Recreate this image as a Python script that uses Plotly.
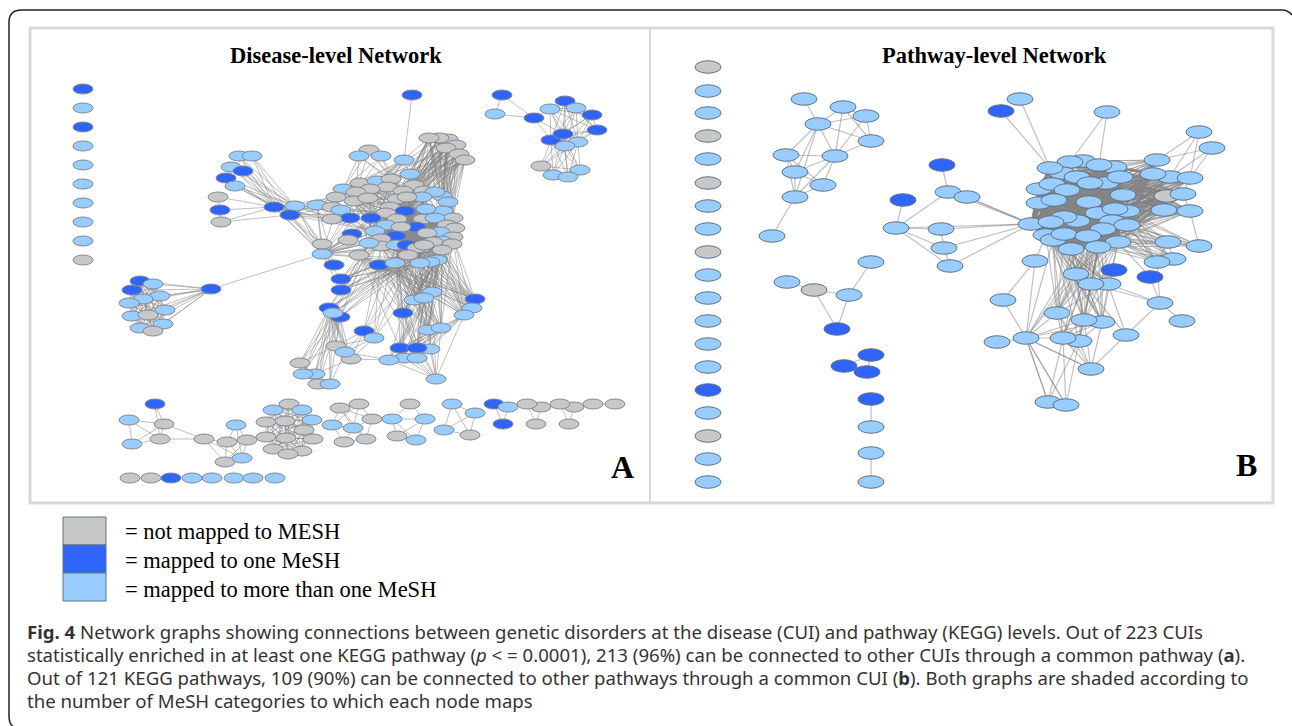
import plotly.graph_objects as go

# node lists: (x, y, kind)  G = not mapped, D = one MeSH, L = more than one
GRAY, DARK, LIGHT = "#c8c8c8", "#2f65fb", "#99ccff"
FILL = {"G": GRAY, "D": DARK, "L": LIGHT}

# ---- Disease-level network ----
A_SINGLES = [(83, 89, "D"), (83, 108, "L"), (83, 127, "D"), (83, 146, "L"), (83, 165, "L"),
             (83, 184, "L"), (83, 203, "L"), (83, 222, "L"), (83, 241, "L"), (83, 260, "G")]
A_ROW = [(130, 478, "G"), (151, 478, "G"), (171, 478, "D"), (192, 478, "L"), (212, 478, "L"),
         (234, 478, "L"), (253, 478, "L"), (275, 478, "L")]
A_NE = [(502, 95, "D"), (495, 114, "L"), (534, 118, "D"), (550, 109, "L"), (565, 101, "D"),
        (576, 108, "L"), (592, 115, "D"), (597, 130, "D"), (551, 140, "D"), (563, 134, "D"),
        (578, 142, "L"), (565, 146, "L"), (541, 166, "G"), (553, 175, "L"), (580, 170, "L"),
        (568, 177, "L")]
A_TOP = [(412, 95, "D")]
A_GRAYS = [(448, 139, "G"), (439, 138, "G"), (429, 138, "G"), (456, 145, "G"), (446, 148, "G"),
           (459, 154, "G"), (465, 160, "G")]
A_TRIO = [(369, 150, "G"), (359, 156, "L"), (381, 156, "L"), (404, 160, "L"), (410, 174, "L")]
A_FAN = [(239, 156, "L"), (252, 156, "L"), (231, 167, "L"), (243, 171, "D"), (226, 178, "D"),
         (235, 186, "L"), (218, 197, "G"), (220, 210, "D"), (221, 222, "G")]
A_BRIDGE = [(274, 207, "D"), (295, 206, "L"), (290, 215, "D"), (317, 205, "L")]
A_CORE = [(343, 189, "L"), (360, 183, "G"), (377, 181, "L"), (391, 179, "G"), (414, 185, "G"),
          (387, 187, "G"), (370, 189, "G"), (356, 192, "G"), (336, 197, "G"), (354, 201, "G"),
          (368, 198, "G"), (403, 191, "G"), (424, 191, "G"), (442, 196, "L"), (435, 192, "L"),
          (422, 197, "L"), (448, 202, "L"), (397, 199, "G"), (407, 197, "G"), (332, 207, "G"),
          (341, 210, "L"), (390, 207, "G"), (405, 211, "D"), (443, 211, "L"), (426, 209, "L"),
          (386, 213, "G"), (350, 218, "D"), (371, 218, "D"), (332, 219, "G"), (397, 219, "G"),
          (423, 219, "G"), (453, 218, "G"), (435, 218, "L"), (447, 225, "G"), (455, 228, "G"),
          (386, 225, "L"), (416, 227, "D"), (401, 227, "G"), (352, 234, "D"), (375, 231, "L"),
          (440, 232, "L"), (427, 233, "G"), (453, 237, "G"), (348, 240, "G"), (396, 236, "D"),
          (381, 239, "G"), (442, 241, "L"), (452, 244, "G"), (433, 242, "G"), (322, 244, "G"),
          (381, 246, "G"), (369, 243, "L"), (396, 245, "L"), (407, 245, "D"), (417, 248, "G"),
          (424, 245, "G"), (442, 250, "G"), (322, 254, "L"), (359, 255, "G"), (408, 255, "G"),
          (437, 260, "L"), (430, 262, "L"), (379, 265, "D"), (420, 263, "L"), (395, 263, "L"),
          (334, 265, "D")]
A_SW = [(211, 289, "D"), (140, 281, "D"), (132, 290, "D"), (153, 284, "L"), (160, 296, "L"),
        (143, 299, "L"), (129, 303, "L"), (165, 310, "L"), (132, 316, "L"), (148, 315, "G"),
        (163, 324, "L"), (140, 328, "L"), (153, 331, "G")]
A_MID_L = [(341, 279, "D"), (341, 290, "D"), (329, 308, "D"), (340, 317, "D"), (333, 313, "L"),
           (364, 331, "D"), (374, 338, "L")]
A_MID_R = [(403, 313, "D"), (475, 299, "D"), (432, 292, "L"), (414, 300, "L"), (424, 298, "L"),
           (472, 308, "L"), (464, 315, "L"), (428, 330, "L"), (441, 328, "L")]
A_LOW_L = [(336, 346, "G"), (351, 359, "G"), (345, 352, "L"), (300, 363, "G"), (315, 374, "L"),
           (303, 374, "L"), (318, 384, "G"), (330, 384, "L")]
A_LOW_R = [(430, 349, "L"), (404, 358, "L"), (400, 348, "D"), (417, 348, "D"), (389, 360, "L"),
           (417, 358, "L"), (436, 379, "L")]
A_B1 = [(155, 404, "D"), (129, 420, "L"), (164, 424, "G"), (160, 439, "G"), (132, 444, "L"),
        (204, 439, "G"), (236, 425, "L"), (227, 442, "G"), (247, 440, "G"), (225, 462, "G"),
        (242, 458, "L")]
A_B2 = [(289, 404, "G"), (273, 410, "L"), (302, 410, "L"), (312, 420, "L"), (266, 422, "G"),
        (285, 421, "G"), (304, 430, "G"), (266, 437, "G"), (286, 438, "G"), (313, 439, "G"),
        (273, 449, "G"), (302, 451, "G"), (288, 454, "G")]
A_B3 = [(340, 408, "G"), (359, 404, "G"), (372, 419, "G"), (332, 425, "L"), (353, 428, "L"),
        (366, 439, "G"), (344, 442, "G")]
A_B4 = [(410, 404, "G"), (392, 419, "L"), (425, 419, "L"), (397, 436, "G"), (416, 440, "L")]
A_B5 = [(452, 404, "L"), (475, 413, "L"), (444, 430, "L"), (470, 435, "G")]
A_B6 = [(494, 404, "D"), (508, 407, "L"), (503, 424, "D")]
A_B7 = [(541, 407, "G"), (527, 404, "G"), (536, 424, "G")]
A_B8 = [(574, 407, "G"), (560, 404, "G"), (569, 424, "G")]
A_B9 = [(593, 404, "G"), (615, 404, "G")]

# ---- Pathway-level network ----
B_SINGLES = [(708, 67, "G"), (708, 91, "L"), (708, 113, "L"), (708, 136, "G"), (708, 159, "L"),
             (708, 183, "G"), (708, 206, "L"), (708, 229, "L"), (708, 252, "G"), (708, 275, "L"),
             (708, 298, "L"), (708, 321, "L"), (708, 344, "L"), (708, 367, "L"), (708, 390, "D"),
             (708, 413, "L"), (708, 436, "G"), (708, 459, "L"), (708, 482, "L")]
B_NW = [(804, 99, "L"), (843, 107, "L"), (866, 116, "L"), (818, 124, "L"), (871, 141, "L"),
        (786, 155, "L"), (835, 156, "L"), (795, 172, "L"), (823, 185, "L"), (795, 197, "L"),
        (772, 236, "L")]
B_LEFT = [(942, 165, "D"), (903, 200, "D"), (948, 192, "L"), (967, 197, "L"), (896, 228, "L"),
          (941, 229, "L"), (944, 248, "L"), (950, 266, "L")]
B_TOP = [(1001, 111, "D"), (1020, 99, "L"), (1107, 112, "L")]
B_SMALL = [(871, 262, "L"), (787, 282, "L"), (814, 290, "G"), (849, 295, "L"), (837, 329, "D")]
B_TINY = [(871, 355, "D"), (844, 366, "D"), (867, 372, "D")]
B_PAIR = [(871, 399, "D"), (871, 427, "L")]
B_PAIR2 = [(871, 453, "L"), (871, 482, "L")]
B_EAST = [(1199, 132, "L"), (1212, 148, "L"), (1157, 160, "L"), (1170, 177, "L"), (1153, 174, "L"),
          (1190, 178, "L"), (1167, 196, "G"), (1183, 194, "L"), (1164, 210, "L"), (1190, 211, "L"),
          (1168, 242, "L"), (1199, 246, "L"), (1173, 259, "L"), (1157, 262, "L")]
B_CORE = [(1083, 161, "L"), (1070, 162, "L"), (1114, 167, "L"), (1099, 165, "L"), (1062, 173, "L"),
          (1050, 168, "L"), (1077, 177, "L"), (1106, 183, "L"), (1120, 177, "L"), (1090, 183, "L"),
          (1039, 189, "L"), (1052, 184, "L"), (1067, 190, "L"), (1123, 195, "L"), (1039, 203, "L"),
          (1054, 200, "L"), (1089, 202, "L"), (1098, 213, "L"), (1127, 211, "L"), (1115, 209, "L"),
          (1077, 221, "L"), (1064, 217, "L"), (1031, 224, "L"), (1051, 222, "L"), (1112, 221, "L"),
          (1103, 229, "L"), (1127, 225, "L"), (1046, 235, "L"), (1053, 240, "L"), (1064, 234, "L"),
          (1088, 236, "L"), (1118, 242, "L"), (1098, 247, "L"), (1071, 249, "L")]
B_SOUTH = [(1035, 261, "L"), (1108, 284, "L"), (1076, 274, "L"), (1114, 270, "D"), (1150, 277, "D"),
           (1091, 284, "L"), (1160, 303, "L"), (1182, 321, "L"), (1003, 300, "L"), (1057, 313, "L"),
           (1102, 322, "L"), (1084, 320, "L"), (1126, 335, "L"), (997, 342, "L"), (1026, 338, "L"),
           (1079, 341, "L"), (1063, 338, "L"), (1091, 369, "L"), (1048, 402, "L"), (1066, 405, "L")]

# text
TITLE_A = "Disease-level Network"
TITLE_B = "Pathway-level Network"
LEGEND_TEXT = ["= not mapped to MESH", "= mapped to one MeSH", "= mapped to more than one MeSH"]
LEGEND_KINDS = ["G", "D", "L"]
CAPTION = [
    "<b>Fig. 4</b> Network graphs showing connections between genetic disorders at the disease (CUI) and pathway (KEGG) levels. Out of 223 CUIs",
    "statistically enriched in at least one KEGG pathway (<i>p</i> < = 0.0001), 213 (96%) can be connected to other CUIs through a common pathway (<b>a</b>).",
    "Out of 121 KEGG pathways, 109 (90%) can be connected to other pathways through a common CUI (<b>b</b>). Both graphs are shaded according to",
    "the number of MeSH categories to which each node maps",
]

edges_x, edges_y = [], []


def seg(a, b):
    edges_x.extend([a[0], b[0], None])
    edges_y.extend([a[1], b[1], None])


def link(group_a, group_b):
    for a in group_a:
        for b in group_b:
            if a != b:
                seg(a, b)


def clique(group):
    for i, a in enumerate(group):
        for b in group[i + 1:]:
            seg(a, b)


def pairs(group, index_pairs):
    for i, j in index_pairs:
        seg(group[i], group[j])


# dark centres get their own heavier traces
clique([n for n in A_CORE if 380 < n[0] < 450 and 205 < n[1] < 258])
a_dark_x, a_dark_y = edges_x.copy(), edges_y.copy()
edges_x.clear()
edges_y.clear()
clique([n for n in B_CORE if 1030 < n[0] < 1125 and 165 < n[1] < 252])
b_dark_x, b_dark_y = edges_x.copy(), edges_y.copy()
edges_x.clear()
edges_y.clear()

# disease-level links
clique(A_CORE[::3])
core_top = [n for n in A_CORE if n[1] < 235 and n[0] > 370]
core_left = [n for n in A_CORE if n[0] < 395 and n[1] > 195]
core_low = [n for n in A_CORE if n[1] > 235]
link(A_GRAYS, core_top[::2])
clique(A_GRAYS)
link(A_TRIO[:3], [n for n in A_CORE if n[1] < 200 and n[0] < 410][::3])
link(A_TRIO[3:], [n for n in A_CORE if n[1] < 200][:8])
seg(A_TOP[0], A_TRIO[3])
link(A_FAN[:6], A_BRIDGE[:3])
pairs(A_FAN, [(6, 7), (7, 8)])
link(A_FAN[6:], A_BRIDGE[:1])
link(A_FAN[8:], A_BRIDGE[2:3])
link(A_BRIDGE, core_left[::3])
seg(A_SW[0], A_CORE[57])
link(A_SW[:1], A_SW[1:])
clique(A_SW[1:])
link(A_MID_L[:2], core_low[::3])
link(A_MID_L[2:5], core_low[:14:3])
link(A_MID_R, core_low[::2])
link(A_LOW_L, A_MID_L[2:5])
pairs(A_LOW_L, [(0, 1), (0, 2), (0, 3), (1, 2), (1, 4), (2, 7), (3, 4), (3, 5), (3, 6), (4, 5), (4, 7), (5, 6), (6, 7)])
link(A_LOW_L[:3], A_MID_L[5:])
link(A_LOW_R, A_MID_R[::2])
pairs(A_LOW_R, [(0, 6), (4, 6), (5, 6), (1, 6), (2, 6), (3, 6), (1, 4), (1, 5), (3, 5), (0, 3)])
link(A_LOW_R[2:4], core_low[10:22:3])
seg(A_LOW_R[4], A_LOW_L[2])
seg(A_LOW_R[4], A_LOW_L[1])
link(A_MID_L[5:], core_low[8:16:2])
clique(A_NE[3:12])
link(A_NE[8:12], A_NE[12:])
clique(A_NE[12:])
pairs(A_NE, [(0, 1), (0, 2), (1, 2), (2, 3), (2, 8), (2, 9)])
pairs(A_B1, [(0, 2), (0, 3), (1, 2), (1, 3), (1, 4), (2, 3), (2, 4), (3, 4), (3, 5), (2, 5), (5, 7),
             (5, 9), (5, 10), (6, 7), (6, 8), (6, 10), (7, 8), (7, 9), (7, 10), (8, 9), (8, 10), (9, 10)])
clique(A_B2)
pairs(A_B3, [(0, 1), (0, 2), (0, 3), (0, 4), (0, 5), (1, 2), (1, 3), (1, 4), (2, 4), (2, 5), (3, 4), (3, 6), (4, 5), (4, 6), (5, 6)])
pairs(A_B4, [(0, 1), (0, 2), (1, 2), (1, 3), (1, 4), (2, 3), (2, 4), (3, 4)])
pairs(A_B5, [(0, 1), (0, 2), (0, 3), (1, 2), (1, 3), (2, 3)])
pairs(A_B6, [(0, 1), (0, 2), (1, 2)])
pairs(A_B7, [(0, 1), (0, 2), (1, 2)])
pairs(A_B8, [(0, 1), (0, 2), (1, 2)])
seg(A_B6[1], A_B7[1])
seg(A_B7[0], A_B8[1])
seg(A_B8[0], A_B9[0])
seg(A_B9[0], A_B9[1])
a_x, a_y = edges_x.copy(), edges_y.copy()
edges_x.clear()
edges_y.clear()

# pathway-level links
clique(B_CORE[::3])
pairs(B_NW, [(0, 3), (1, 3), (1, 2), (1, 4), (2, 3), (2, 4), (3, 4), (3, 5), (3, 6), (3, 7), (3, 9),
             (1, 6), (2, 6), (4, 6), (5, 6), (5, 7), (5, 8), (5, 9), (6, 7), (6, 8), (6, 9), (7, 8), (7, 9), (8, 9), (9, 10)])
pairs(B_LEFT, [(0, 2), (1, 4), (2, 4), (2, 3), (4, 5), (4, 6), (4, 7), (5, 6), (6, 7)])
hub = B_CORE[22]
link(B_LEFT[2:4], [hub])
link(B_LEFT[4:8], [hub])
seg(B_LEFT[3], hub)
seg(B_TOP[0], B_CORE[5])
seg(B_TOP[1], B_CORE[5])
seg(B_TOP[2], B_CORE[1])
seg(B_TOP[2], B_CORE[3])
pairs(B_SMALL, [(0, 3), (1, 2), (2, 3), (2, 4), (3, 4)])
pairs(B_TINY, [(0, 1), (1, 2), (0, 2)])
pairs(B_PAIR, [(0, 1)])
pairs(B_PAIR2, [(0, 1)])
core_right = [n for n in B_CORE if n[0] > 1085]
core_bottom = [n for n in B_CORE if n[1] > 225]
link(B_EAST[2:10], core_right)
link(B_EAST[2:10], [n for n in B_CORE if 1060 < n[0] <= 1085])
pairs(B_EAST, [(0, 2), (0, 3), (0, 5), (1, 2), (1, 5), (1, 3), (2, 4), (3, 5), (5, 7), (7, 8), (7, 9), (8, 9), (9, 11), (10, 11), (10, 12), (10, 13), (12, 13)])
link(B_EAST[10:], core_right[8:])
link(B_SOUTH[1:3], core_bottom)
link(B_SOUTH[5:6], core_bottom)
link(B_SOUTH[9:12], core_bottom)
link(B_SOUTH[14:17], core_bottom[::2])
link(B_SOUTH[9:12], B_SOUTH[14:17])
link(B_SOUTH[14:17], B_SOUTH[17:])
link(B_SOUTH[9:12], B_SOUTH[17:18])
link(B_SOUTH[1:3], B_SOUTH[9:12])
link(B_SOUTH[1:3], B_SOUTH[12:13])
seg(B_SOUTH[0], B_CORE[27])
seg(B_SOUTH[0], B_SOUTH[8])
seg(B_SOUTH[0], B_SOUTH[14])
seg(B_SOUTH[8], B_SOUTH[14])
seg(B_SOUTH[4], B_CORE[31])
seg(B_SOUTH[6], B_SOUTH[1])
seg(B_SOUTH[6], B_SOUTH[5])
seg(B_SOUTH[6], B_SOUTH[4])
seg(B_SOUTH[6], B_SOUTH[7])
seg(B_SOUTH[6], B_SOUTH[12])
seg(B_SOUTH[6], B_EAST[13])
seg(B_SOUTH[12], B_SOUTH[17])
seg(B_SOUTH[13], B_SOUTH[14])
link(B_SOUTH[14:15], B_SOUTH[17:])
link(B_SOUTH[16:17], B_SOUTH[14:15])
b_x, b_y = edges_x, edges_y

# node shapes
shapes = []


def draw_nodes(group, w, h, line_col):
    for x, y, kind in group:
        shapes.append(dict(type="circle", xref="x", yref="y", x0=x - w / 2, x1=x + w / 2,
                           y0=y - h / 2, y1=y + h / 2, fillcolor=FILL[kind],
                           line=dict(color=line_col, width=1)))


shapes.append(dict(type="path", xref="x", yref="y",
                   path="M 1292 15 Q 1288 10 1282 10 L 22 10 Q 9 10 9 22 L 9 716 Q 9 725 15 728",
                   line=dict(color="#222222", width=1.5)))
shapes.append(dict(type="rect", xref="x", yref="y", x0=30, x1=1273, y0=28, y1=503,
                   line=dict(color="#d9d9d9", width=3)))
shapes.append(dict(type="line", xref="x", yref="y", x0=650, x1=650, y0=28, y1=503,
                   line=dict(color="#d9d9d9", width=2)))

for g in [A_SINGLES, A_ROW, A_NE, A_TOP, A_GRAYS, A_TRIO, A_FAN, A_BRIDGE, A_CORE, A_SW, A_MID_L,
          A_MID_R, A_LOW_L, A_LOW_R, A_B1, A_B2, A_B3, A_B4, A_B5, A_B6, A_B7, A_B8, A_B9]:
    draw_nodes(g, 20, 10, "#808a94")
for g in [B_SINGLES, B_NW, B_LEFT, B_TOP, B_SMALL, B_TINY, B_PAIR, B_PAIR2, B_EAST, B_CORE, B_SOUTH]:
    draw_nodes(g, 26, 12.5, "#5f7485")

# legend swatches
for i, kind in enumerate(LEGEND_KINDS):
    shapes.append(dict(type="rect", xref="x", yref="y", x0=63, x1=106, y0=517 + 28 * i, y1=545 + 28 * i,
                       fillcolor=FILL[kind], line=dict(color="#5f7485", width=1)))

annotations = []


def label(x, y, text, size, family, anchor="left", color="#000000"):
    annotations.append(dict(x=x, y=y, xref="x", yref="y", text=text, showarrow=False, xanchor=anchor,
                            yanchor="middle", font=dict(size=size, family=family, color=color)))


label(336, 55, "<b>" + TITLE_A + "</b>", 22.5, "Liberation Serif", "center")
label(994, 55, "<b>" + TITLE_B + "</b>", 22.5, "Liberation Serif", "center")
label(622, 467, "<b>A</b>", 32, "Liberation Serif", "center")
label(1246, 465, "<b>B</b>", 32, "Liberation Serif", "center")
for i, t in enumerate(LEGEND_TEXT):
    label(123, 531 + 29 * i, t, 22.5, "Liberation Serif")
for i, t in enumerate(CAPTION):
    label(25, 631 + 23 * i, t, 18.6, "Noto Sans", color="#333333")

line_grey = "rgba(130,130,130,0.5)"
fig = go.Figure()
fig.add_trace(go.Scatter(x=a_x, y=a_y, mode="lines", hoverinfo="skip", line=dict(color=line_grey, width=1)))
fig.add_trace(go.Scatter(x=b_x, y=b_y, mode="lines", hoverinfo="skip", line=dict(color=line_grey, width=1.2)))
fig.add_trace(go.Scatter(x=a_dark_x, y=a_dark_y, mode="lines", hoverinfo="skip", line=dict(color="#8a8a8a", width=1.6)))
fig.add_trace(go.Scatter(x=b_dark_x, y=b_dark_y, mode="lines", hoverinfo="skip", line=dict(color="#858585", width=2.2)))
fig.update_layout(width=1292, height=726, margin=dict(l=0, r=0, t=0, b=0), showlegend=False,
                  plot_bgcolor="white", paper_bgcolor="white", shapes=shapes, annotations=annotations,
                  xaxis=dict(range=[0, 1292], visible=False, fixedrange=True),
                  yaxis=dict(range=[726, 0], visible=False, fixedrange=True))
fig.write_html("out.html", config={"displayModeBar": False},
               post_script="document.body.style.margin='0';document.body.style.overflow='hidden';")
